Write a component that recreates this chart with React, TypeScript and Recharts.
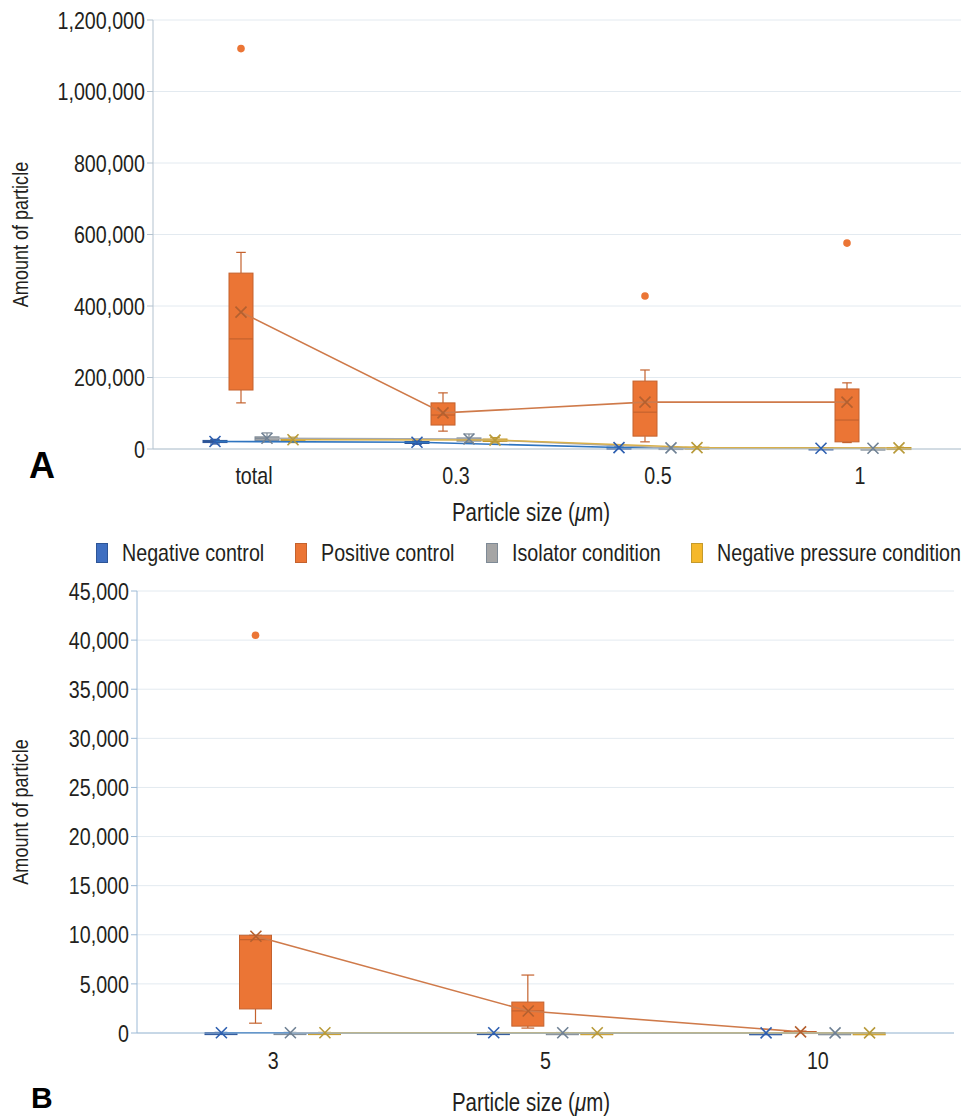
import React from 'react';
import { ComposedChart, Bar, Line, XAxis, YAxis, CartesianGrid, Legend } from 'recharts';

document.body.style.margin = '0';

// no condensed face installed, so Liberation Sans is squeezed horizontally
const SANS = '"Liberation Sans", Arial, sans-serif';
const SQUEEZE = 0.82;
const TEXT = '#231f20';

// ---- panel A: total / 0.3 / 0.5 / 1 um ----
const sizesA = ['total', '0.3', '0.5', '1'];
// each box: [min, q1, median, q3, max]
const negBoxA = [[14000, 18000, 21000, 24000, 27000], [13000, 17000, 19000, 21000, 24000], [2000, 3000, 4000, 5000, 6000], [1000, 1500, 2000, 3000, 4000]];
const negMeanA = [21000, 19000, 4000, 2000];
const posBoxA = [[129000, 165000, 308000, 492000, 550000], [50000, 67000, 95000, 129000, 157000], [20000, 36000, 103000, 190000, 221000], [18000, 20000, 81000, 168000, 185000]];
const posMeanA = [383000, 101000, 131000, 131000];
const posOutA = [[1120000], [], [428000], [576000]];
const isoBoxA = [[20000, 24000, 30000, 34000, 45000], [18000, 22000, 26000, 31000, 42000], [1000, 2000, 3000, 4000, 5000], [1000, 1500, 2000, 2500, 3000]];
const isoMeanA = [30000, 28000, 3000, 2000];
const npBoxA = [[18000, 22000, 25000, 29000, 33000], [17000, 21000, 24000, 28000, 32000], [2000, 3000, 4000, 5000, 6000], [1000, 2000, 3000, 4000, 5000]];
const npMeanA = [26000, 25000, 4000, 3000];
const ticksA = [0, 200000, 400000, 600000, 800000, 1000000, 1200000];

// ---- panel B: 3 / 5 / 10 um ----
const sizesB = ['3', '5', '10'];
const negBoxB = [[0, 10, 20, 40, 60], [0, 10, 20, 40, 60], [0, 5, 10, 20, 30]];
const negMeanB = [30, 30, 15];
const posBoxB = [[1000, 2450, 9500, 9950, 9950], [500, 700, 2250, 3150, 5900], [30, 50, 100, 150, 200]];
const posMeanB = [9850, 2240, 120];
const posOutB = [[40500], [], []];
const isoBoxB = [[0, 10, 20, 40, 60], [0, 10, 20, 30, 50], [0, 5, 10, 20, 30]];
const isoMeanB = [25, 20, 12];
const npBoxB = [[0, 10, 20, 40, 60], [0, 10, 20, 30, 50], [0, 5, 10, 20, 30]];
const npMeanB = [25, 20, 12];
const ticksB = [0, 5000, 10000, 15000, 20000, 25000, 30000, 35000, 40000, 45000];

const KEYS = ['neg', 'pos', 'iso', 'np'];
const STYLE: Record<string, any> = {
  neg: { name: 'Negative control', fill: '#3F6FC1', stroke: '#2D5597', line: '#2E74C0', mark: '#2D5FB0' },
  pos: { name: 'Positive control', fill: '#EB7535', stroke: '#C4622E', line: '#CF7A4A', mark: '#B4602F' },
  iso: { name: 'Isolator condition', fill: '#A5A5A5', stroke: '#7E8A96', line: '#A5A9AE', mark: '#6F8194' },
  np: { name: 'Negative pressure condition', fill: '#F5B82A', stroke: '#C49A2C', line: '#D9B04A', mark: '#B89A3A' },
};

function buildRows(cats: string[], series: Record<string, { box: number[][]; mean: number[]; out?: number[][] }>) {
  return cats.map((cat, i) => {
    const row: any = { cat };
    for (const k of KEYS) {
      const s = series[k];
      const [min, q1, med, q3, max] = s.box[i];
      row[k] = { min, q1, med, q3, max, out: s.out ? s.out[i] : [] };
      row[k + 'Mean'] = s.mean[i];
    }
    return row;
  });
}

const rowsA = buildRows(sizesA, {
  neg: { box: negBoxA, mean: negMeanA },
  pos: { box: posBoxA, mean: posMeanA, out: posOutA },
  iso: { box: isoBoxA, mean: isoMeanA },
  np: { box: npBoxA, mean: npMeanA },
});
const rowsB = buildRows(sizesB, {
  neg: { box: negBoxB, mean: negMeanB },
  pos: { box: posBoxB, mean: posMeanB, out: posOutB },
  iso: { box: isoBoxB, mean: isoMeanB },
  np: { box: npBoxB, mean: npMeanB },
});

let measureCtx: CanvasRenderingContext2D | null = null;
function textWidth(t: string, size: number) {
  if (!measureCtx) measureCtx = document.createElement('canvas').getContext('2d');
  if (!measureCtx) return t.length * size * 0.5;
  measureCtx.font = `${size}px ${SANS}`;
  return measureCtx.measureText(t).width;
}

function NarrowText({ x, y, anchor, size, dy, children, rotate }: any) {
  const tf = rotate
    ? `translate(${x} ${y}) rotate(-90) scale(${SQUEEZE} 1)`
    : `translate(${x} ${y}) scale(${SQUEEZE} 1)`;
  return (
    <text transform={tf} x={0} y={0} dy={dy} textAnchor={anchor} fontFamily={SANS} fontSize={size} fill={TEXT}>
      {children}
    </text>
  );
}

const YTick = (p: any) => (
  <NarrowText x={p.x} y={p.y} anchor="end" size={24} dy="0.36em">
    {Number(p.payload.value).toLocaleString('en-US')}
  </NarrowText>
);
const XTick = (p: any) => (
  <NarrowText x={p.x} y={p.y} anchor="middle" size={24} dy="0.71em">
    {p.payload.value}
  </NarrowText>
);

// box drawn from the bar rect (q1..q3); the other stats use the same px/unit
const boxShape = (k: string) => (props: any) => {
  const { x, y, width, height, payload } = props;
  const b = payload[k];
  const st = STYLE[k];
  const span = b.q3 - b.q1;
  const per = span > 0 ? height / span : 0;
  const yOf = (v: number) => y + (b.q3 - v) * per;
  const cx = x + width / 2;
  const cap = width * 0.2;
  return (
    <g>
      <line x1={cx} x2={cx} y1={yOf(b.max)} y2={y} stroke={st.stroke} strokeWidth={1.2} />
      <line x1={cx - cap} x2={cx + cap} y1={yOf(b.max)} y2={yOf(b.max)} stroke={st.stroke} strokeWidth={1.2} />
      <line x1={cx} x2={cx} y1={y + height} y2={yOf(b.min)} stroke={st.stroke} strokeWidth={1.2} />
      <line x1={cx - cap} x2={cx + cap} y1={yOf(b.min)} y2={yOf(b.min)} stroke={st.stroke} strokeWidth={1.2} />
      <rect x={x} y={y} width={width} height={Math.max(height, 2)} fill={st.fill} stroke={st.stroke} strokeWidth={1} />
      <line x1={x} x2={x + width} y1={yOf(b.med)} y2={yOf(b.med)} stroke={st.stroke} strokeWidth={1.2} />
      {b.out.map((o: number, j: number) => (
        <circle key={j} cx={cx} cy={yOf(o)} r={3.8} fill={st.fill} />
      ))}
    </g>
  );
};

const xMark = (k: string) => (p: any) => {
  const { cx, cy, index } = p;
  if (cx == null || cy == null) return <g key={index} />;
  const h = 5.5;
  return (
    <path
      key={index}
      d={`M${cx - h},${cy - h}L${cx + h},${cy + h}M${cx - h},${cy + h}L${cx + h},${cy - h}`}
      stroke={STYLE[k].mark}
      strokeWidth={1.6}
      fill="none"
    />
  );
};

function LegendRow() {
  return (
    <div style={{ display: 'flex', alignItems: 'center', height: 30, paddingLeft: 96, gap: 31, fontFamily: SANS, fontSize: 24, color: TEXT }}>
      {KEYS.map((k) => {
        const w = textWidth(STYLE[k].name, 24) * SQUEEZE;
        return (
          <div key={k} style={{ display: 'flex', alignItems: 'center', gap: 14 }}>
            <span style={{ display: 'inline-block', width: 10, height: 18, background: STYLE[k].fill, border: `1px solid ${STYLE[k].stroke}` }} />
            <span style={{ display: 'inline-block', width: w, whiteSpace: 'nowrap' }}>
              <span style={{ display: 'inline-block', transform: `scaleX(${SQUEEZE})`, transformOrigin: '0 50%' }}>{STYLE[k].name}</span>
            </span>
          </div>
        );
      })}
    </div>
  );
}

interface PanelProps {
  rows: any[];
  ticks: number[];
  height: number;
  margin: { top: number; right: number; bottom: number; left: number };
  yWidth: number;
  xHeight: number;
  barSize: number;
  barGap: number;
  xTickMargin: number;
  titleDy: number;
  axisColor: string;
  legend?: boolean;
}

function BoxPanel({ rows, ticks, height, margin, yWidth, xHeight, barSize, barGap, xTickMargin, titleDy, axisColor, legend }: PanelProps) {
  const step = barSize + barGap;
  const yMax = ticks[ticks.length - 1];
  const yTitle = (p: any) => {
    const vb = p.viewBox;
    return (
      <NarrowText x={28} y={vb.y + vb.height / 2} anchor="middle" size={22} rotate>
        Amount of particle
      </NarrowText>
    );
  };
  const xTitle = (p: any) => {
    const vb = p.viewBox;
    return (
      <NarrowText x={531} y={vb.y + titleDy} anchor="middle" size={25}>
        Particle size (<tspan fontStyle="italic">μ</tspan>m)
      </NarrowText>
    );
  };
  return (
    <ComposedChart width={973} height={height} data={rows} margin={margin} barGap={barGap}>
      <CartesianGrid vertical={false} stroke="#E3EAF0" />
      <XAxis
        dataKey="cat"
        height={xHeight}
        tickLine={false}
        tickSize={6}
        tickMargin={xTickMargin}
        axisLine={{ stroke: axisColor }}
        tick={<XTick />}
        label={{ content: xTitle }}
      />
      {KEYS.map((k, i) => {
        const d = (i - 1.5) * step;
        return <XAxis key={k} xAxisId={k} dataKey="cat" hide padding={{ left: d, right: -d }} />;
      })}
      <YAxis
        width={yWidth}
        domain={[0, yMax]}
        ticks={ticks}
        interval={0}
        tickSize={6}
        tickMargin={2}
        axisLine={{ stroke: axisColor }}
        tickLine={{ stroke: axisColor }}
        tick={<YTick />}
        label={{ content: yTitle }}
      />
      {legend && (
        <Legend verticalAlign="top" wrapperStyle={{ top: 8, left: 0, width: 973 }} content={() => <LegendRow />} />
      )}
      {KEYS.map((k) => (
        <Bar
          key={k}
          dataKey={(r: any) => [r[k].q1, r[k].q3]}
          barSize={barSize}
          shape={boxShape(k)}
          isAnimationActive={false}
        />
      ))}
      {KEYS.map((k) => (
        <Line
          key={k + 'line'}
          xAxisId={k}
          dataKey={k + 'Mean'}
          stroke={STYLE[k].line}
          strokeWidth={1.6}
          dot={xMark(k)}
          activeDot={false}
          isAnimationActive={false}
        />
      ))}
    </ComposedChart>
  );
}

const panelLabel: React.CSSProperties = {
  position: 'absolute',
  fontFamily: SANS,
  fontWeight: 'bold',
  color: '#000',
};

export default function App() {
  return (
    <div style={{ position: 'relative', width: 973, height: 1117, background: '#fff', overflow: 'hidden' }}>
      <div style={{ position: 'absolute', left: 0, top: 0 }}>
        <BoxPanel
          rows={rowsA}
          ticks={ticksA}
          height={530}
          margin={{ top: 20, right: 12, bottom: 6, left: 0 }}
          yWidth={153}
          xHeight={75}
          barSize={24}
          barGap={2}
          xTickMargin={12}
          titleDy={72}
          axisColor="#B3C2CF"
        />
      </div>
      <div style={{ position: 'absolute', left: 0, top: 530 }}>
        <BoxPanel
          rows={rowsB}
          ticks={ticksB}
          height={587}
          margin={{ top: 31, right: 19, bottom: 4, left: 0 }}
          yWidth={137}
          xHeight={80}
          barSize={32}
          barGap={2.5}
          xTickMargin={13}
          titleDy={78}
          axisColor="#9DBAD6"
          legend
        />
      </div>
      <div style={{ ...panelLabel, left: 29, top: 448, fontSize: 36, lineHeight: 1 }}>A</div>
      <div style={{ ...panelLabel, left: 31, top: 1086, fontSize: 30, lineHeight: 0.8 }}>B</div>
    </div>
  );
}
